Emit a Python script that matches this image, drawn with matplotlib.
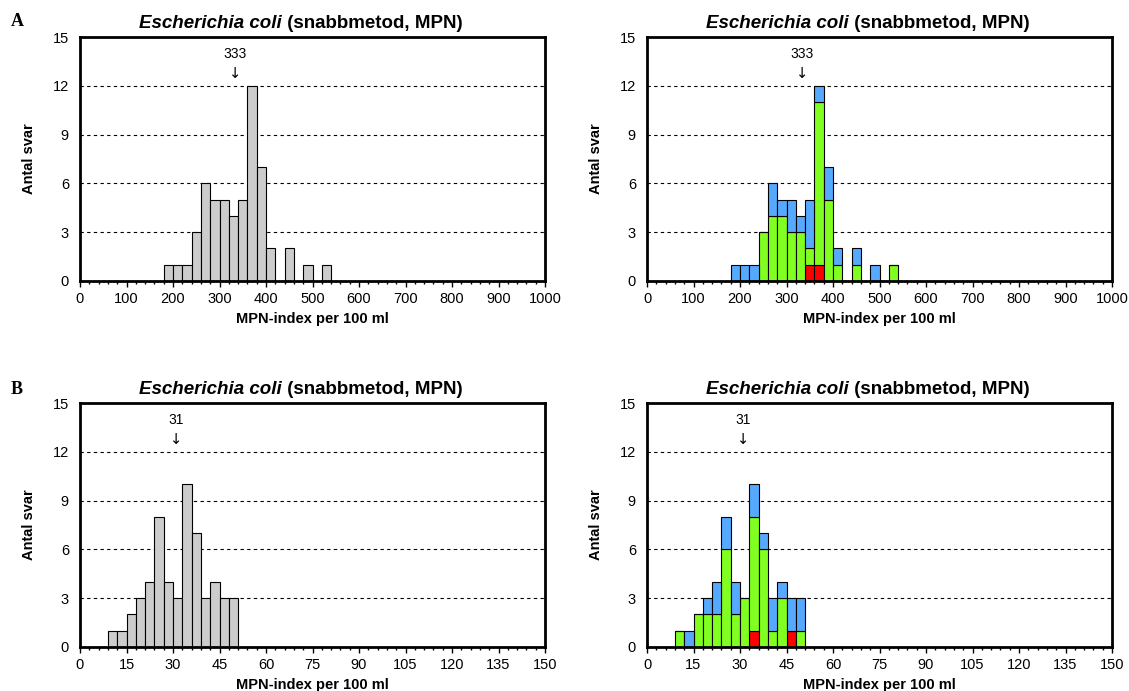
import numpy as np
import matplotlib
matplotlib.use("Agg")
import matplotlib.pyplot as plt
from matplotlib.ticker import MultipleLocator

plt.rcParams['font.family'] = ['Liberation Sans', 'DejaVu Sans']

# panel A: bins of 20 starting at 180
a_left = [180, 200, 220, 240, 260, 280, 300, 320, 340, 360, 380, 400, 420, 440, 460, 480, 500, 520]
a_total = [1, 1, 1, 3, 6, 5, 5, 4, 5, 12, 7, 2, 0, 2, 0, 1, 0, 1]
a_red = [0, 0, 0, 0, 0, 0, 0, 0, 1, 1, 0, 0, 0, 0, 0, 0, 0, 0]
a_green = [0, 0, 0, 3, 4, 4, 3, 3, 1, 10, 5, 1, 0, 1, 0, 0, 0, 1]
a_blue = [1, 1, 1, 0, 2, 1, 2, 1, 3, 1, 2, 1, 0, 1, 0, 1, 0, 0]
a_median = 333

# panel B: bins of 3 starting at 9
b_left = [9, 12, 15, 18, 21, 24, 27, 30, 33, 36, 39, 42, 45, 48]
b_total = [1, 1, 2, 3, 4, 8, 4, 3, 10, 7, 3, 4, 3, 3]
b_red = [0, 0, 0, 0, 0, 0, 0, 0, 1, 0, 0, 0, 1, 0]
b_green = [1, 0, 2, 2, 2, 6, 2, 3, 7, 6, 1, 3, 0, 1]
b_blue = [0, 1, 0, 1, 2, 2, 2, 0, 2, 1, 2, 1, 2, 2]
b_median = 31

GREY = '#cccccc'
GREEN = '#80ff20'
BLUE = '#55aaff'
RED = '#ff0000'

W, H = 1129, 691
fig = plt.figure(figsize=(W / 100, H / 100), dpi=100)


def px_axes(x0, y0, x1, y1):
    return fig.add_axes([x0 / W, 1 - y1 / H, (x1 - x0) / W, (y1 - y0) / H])


def title(ax):
    r = fig.canvas.get_renderer()
    t1 = ax.text(0, 1.037, "Escherichia coli", transform=ax.transAxes,
                 fontsize=13.5, fontweight='bold', fontstyle='italic', ha='left', va='baseline')
    t2 = ax.text(0, 1.037, " (snabbmetod, MPN)", transform=ax.transAxes,
                 fontsize=13.5, fontweight='bold', ha='left', va='baseline')
    w1 = t1.get_window_extent(r).width
    w2 = t2.get_window_extent(r).width
    axw = ax.get_window_extent(r).width
    # title sits a little left of the plot centre
    start = ((axw - w1 - w2) / 2 - 12) / axw
    t1.set_x(start)
    t2.set_x(start + w1 / axw)


def setup(ax, xmax, major, minor, median):
    ax.set_xlim(0, xmax)
    ax.set_ylim(0, 15)
    ax.set_yticks(range(0, 16, 3))
    ax.xaxis.set_major_locator(MultipleLocator(major))
    ax.xaxis.set_minor_locator(MultipleLocator(minor))
    ax.tick_params(axis='y', length=0, pad=8, labelsize=10.5)
    ax.tick_params(axis='x', which='major', direction='out', length=4, width=1, labelsize=10.5, pad=4)
    ax.tick_params(axis='x', which='minor', direction='out', length=2.5, width=1)
    for s in ax.spines.values():
        s.set_linewidth(2)
    for y in [3, 6, 9, 12]:
        ax.axhline(y, color='black', linestyle=(0, (3, 3)), linewidth=0.8, zorder=1)
    ax.set_xlabel("MPN-index per 100 ml", fontsize=10.5, fontweight='bold', labelpad=4)
    ax.set_ylabel("Antal svar", fontsize=10.5, fontweight='bold', labelpad=12)
    ax.text(median, 13.95, str(median), ha='center', va='center', fontsize=10)
    ax.text(median, 12.75, "\u2193", ha='center', va='center', fontsize=10.5,
            family=['DejaVu Sans'])
    title(ax)


def grey_bars(ax, left, total, width):
    ax.bar(left, total, width=width, align='edge', color=GREY, edgecolor='black',
           linewidth=0.8, zorder=2)


def stack_bars(ax, left, red, green, blue, width):
    red = np.array(red)
    green = np.array(green)
    blue = np.array(blue)
    ax.bar(left, red, width=width, align='edge', color=RED, edgecolor='black', linewidth=0.8, zorder=2)
    ax.bar(left, green, bottom=red, width=width, align='edge', color=GREEN, edgecolor='black',
           linewidth=0.8, zorder=2)
    ax.bar(left, blue, bottom=red + green, width=width, align='edge', color=BLUE, edgecolor='black',
           linewidth=0.8, zorder=2)


ax1 = px_axes(80, 37, 545, 281)
grey_bars(ax1, a_left, a_total, 20)
setup(ax1, 1000, 100, 20, a_median)

ax2 = px_axes(647, 37, 1112, 281)
stack_bars(ax2, a_left, a_red, a_green, a_blue, 20)
setup(ax2, 1000, 100, 20, a_median)

ax3 = px_axes(80, 403, 545, 647)
grey_bars(ax3, b_left, b_total, 3)
setup(ax3, 150, 15, 3, b_median)

ax4 = px_axes(647, 403, 1112, 647)
stack_bars(ax4, b_left, b_red, b_green, b_blue, 3)
setup(ax4, 150, 15, 3, b_median)

fig.text(11 / W, 1 - 22 / H, "A", family='Liberation Serif', fontweight='bold', fontsize=13,
         ha='left', va='center')
fig.text(11 / W, 1 - 389 / H, "B", family='Liberation Serif', fontweight='bold', fontsize=13,
         ha='left', va='center')

fig.savefig("out.png", dpi=100)
